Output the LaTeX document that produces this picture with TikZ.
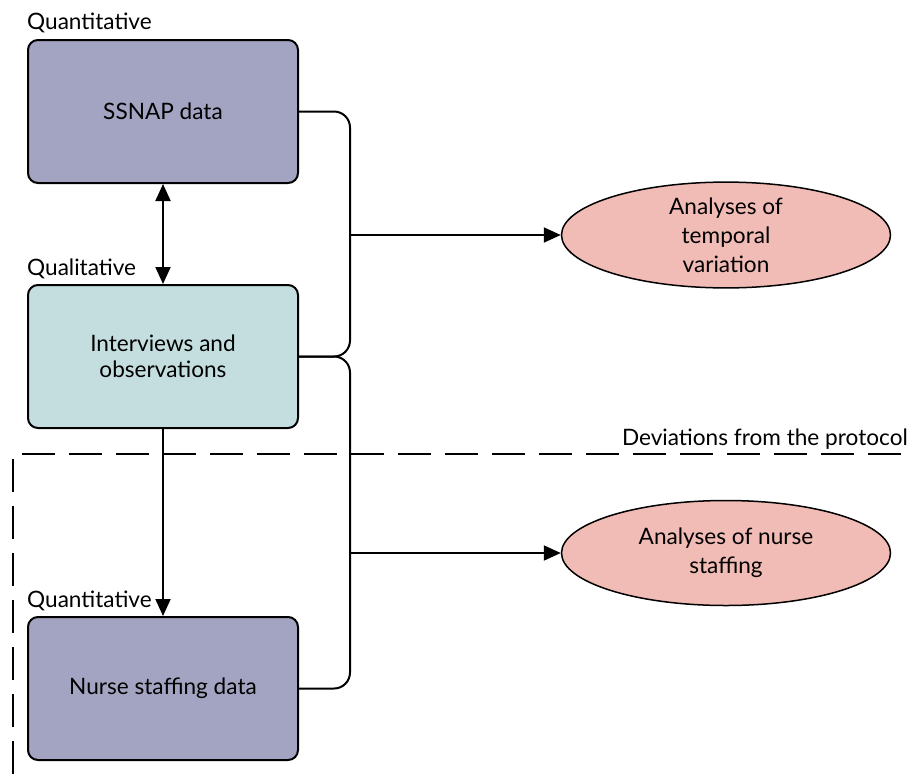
\documentclass[tikz,border=0pt]{standalone}
\usepackage{fontspec}
\setmainfont{Lato}
\usetikzlibrary{arrows.meta,shapes.geometric}
\definecolor{quant}{RGB}{163,163,194}
\definecolor{qual}{RGB}{196,222,224}
\definecolor{ana}{RGB}{242,188,182}
\tikzset{
  every node/.style={font=\fontsize{22.6}{26.5}\selectfont},
  databox/.style={draw=black, line width=2pt, rounded corners=10pt, minimum width=270pt, minimum height=143pt, align=center, inner sep=0pt},
  anabox/.style={draw=black, line width=1.5pt, ellipse, fill=ana, minimum width=329pt, minimum height=105pt, align=center, inner sep=0pt, font=\fontsize{22.6}{29}\selectfont},
  conn/.style={line width=2pt},
  tip/.style={-{Triangle[length=17pt,width=15pt]}},
  lbl/.style={anchor=base west, inner sep=0pt}
}
\begin{document}
\begin{tikzpicture}[x=1pt,y=-1pt]
\useasboundingbox (0,0) rectangle (907,774);
% boxes
\node[databox, fill=quant] (ssnap) at (163,111.5) {SSNAP data};
\node[databox, fill=qual] (interv) at (163,356.5) {Interviews and\\observations};
\node[databox, fill=quant] (nurse) at (163,688.5) {Nurse staffing data};
% ellipses
\node[anabox] (ell1) at (726,235) {Analyses of\\temporal\\variation};
\node[anabox] (ell2) at (726,553) {Analyses of nurse\\staffing};
% labels
\node[lbl] (l1) at (27,29) {Quantitative};
\node[lbl] (l2) at (27,275) {Qualitative};
\node[lbl] (l3) at (27,607) {Quantitative};
% dashed region
\coordinate (d1) at (13,774);
\coordinate (d2) at (13,454);
\coordinate (d3) at (907,454);
\draw[line width=2pt, dash pattern=on 33pt off 14pt] (d1) -- (d2) -- (d3);
\node[anchor=base east, inner sep=0pt] (dev) at (908,445) {Deviations from the protocol};
% vertical arrows
\draw[conn, {Triangle[length=17pt,width=15pt]}-{Triangle[length=17pt,width=15pt]}] (ssnap.south) -- (interv.north);
\draw[conn, tip] (interv.south) -- (nurse.north);
% braces
\coordinate (b1) at (350,235);
\coordinate (b2) at (350,553);
\draw[conn, rounded corners=16pt] (ssnap.east) -| (b1) |- (interv.east);
\draw[conn, rounded corners=16pt] (interv.east) -| (b2) |- (nurse.east);
\draw[conn, tip] (b1) -- (ell1.west);
\draw[conn, tip] (b2) -- (ell2.west);
\end{tikzpicture}
\end{document}
